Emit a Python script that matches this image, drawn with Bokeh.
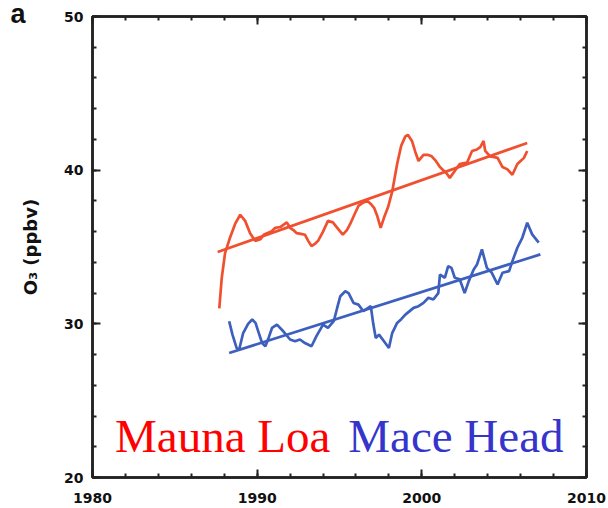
from bokeh.plotting import figure
from bokeh.models import FixedTicker, LinearAxis, Label, Range1d, CustomJSTickFormatter
from bokeh.embed import file_html
from bokeh.resources import INLINE

# ---- data ----
mauna_loa_year = [1987.7, 1987.85, 1988.05, 1988.35, 1988.66, 1988.97, 1989.27, 1989.57, 1989.88,
                  1990.2, 1990.4, 1990.6, 1990.85, 1991.1, 1991.4, 1991.8, 1992.0, 1992.2, 1992.4,
                  1992.65, 1992.9, 1993.1, 1993.3, 1993.5, 1993.7, 1994.0, 1994.3, 1994.6, 1994.9,
                  1995.2, 1995.45, 1995.65, 1995.9, 1996.15, 1996.45, 1996.7, 1996.9, 1997.1, 1997.3,
                  1997.5, 1997.7, 1997.95, 1998.2, 1998.5, 1998.75, 1999.0, 1999.15, 1999.4, 1999.6,
                  1999.8, 2000.1, 2000.35, 2000.6, 2000.85, 2001.1, 2001.3, 2001.5, 2001.7, 2002.0,
                  2002.3, 2002.5, 2002.75, 2003.05, 2003.35, 2003.55, 2003.75, 2003.85, 2004.15,
                  2004.4, 2004.6, 2004.9, 2005.2, 2005.5, 2005.8, 2006.0, 2006.2, 2006.4]
mauna_loa_o3 = [31.0, 33.0, 34.6, 35.6, 36.5, 37.1, 36.7, 35.9, 35.4,
                35.5, 35.8, 35.9, 36.0, 36.25, 36.3, 36.6, 36.25, 36.1, 35.9,
                35.85, 35.8, 35.4, 35.06, 35.2, 35.4, 36.0, 36.7, 36.6, 36.2,
                35.8, 36.1, 36.5, 37.1, 37.67, 37.9, 38.0, 37.8, 37.55, 37.0,
                36.25, 36.9, 37.6, 38.6, 40.4, 41.6, 42.2, 42.3, 41.9, 41.2,
                40.6, 41.0, 41.0, 40.9, 40.6, 40.2, 40.0, 39.8, 39.5, 39.95,
                40.4, 40.45, 40.5, 41.25, 41.35, 41.5, 41.9, 41.25, 40.9,
                40.85, 40.8, 40.2, 40.05, 39.7, 40.4, 40.6, 40.8, 41.25]

mace_head_year = [1988.3, 1988.5, 1988.75, 1988.9, 1989.15, 1989.45, 1989.7, 1989.9, 1990.1, 1990.3,
                  1990.5, 1990.7, 1990.9, 1991.2, 1991.6, 1992.0, 1992.3, 1992.6, 1992.9, 1993.3,
                  1993.6, 1994.0, 1994.3, 1994.65, 1994.85, 1995.05, 1995.35, 1995.55, 1995.85,
                  1996.15, 1996.45, 1996.9, 1997.05, 1997.2, 1997.4, 1997.7, 1998.0, 1998.2, 1998.5,
                  1998.75, 1999.0, 1999.5, 1999.8, 2000.1, 2000.4, 2000.7, 2001.0, 2001.1, 2001.4,
                  2001.6, 2001.8, 2002.0, 2002.3, 2002.6, 2002.85, 2003.15, 2003.35, 2003.65,
                  2003.95, 2004.25, 2004.6, 2004.9, 2005.3, 2005.5, 2005.8, 2006.1, 2006.4, 2006.7,
                  2007.1]
mace_head_o3 = [30.17, 29.3, 28.43, 28.3, 29.4, 30.0, 30.28, 30.06, 29.4, 28.75,
                28.54, 29.1, 29.73, 29.95, 29.5, 28.98, 28.87, 28.98, 28.75, 28.54,
                29.2, 29.95, 29.73, 30.17, 31.0, 31.8, 32.12, 32.0, 31.36,
                31.25, 30.82, 31.15, 30.0, 29.08, 29.3, 28.87, 28.43, 29.4, 30.06,
                30.3, 30.6, 31.04, 31.15, 31.36, 31.7, 31.58, 32.0, 33.2, 33.0,
                33.75, 33.64, 33.0, 32.9, 32.0, 32.78, 33.54, 33.86, 34.84,
                33.64, 33.32, 32.56, 33.32, 33.43, 34.08, 34.95, 35.6, 36.58, 35.82,
                35.28]

mauna_loa_trend_year = [1987.6, 2006.4]
mauna_loa_trend_o3 = [34.67, 41.77]
mace_head_trend_year = [1988.3, 2007.2]
mace_head_trend_o3 = [28.1, 34.52]

x_major = [1980, 1990, 2000, 2010]
x_minor = list(range(1980, 2011, 2))
y_major = [20, 30, 40, 50]
y_minor = list(range(20, 51, 2))

RED = "#F0502F"
BLUE = "#3D60BE"

p = figure(width=608, height=508, output_backend="svg", toolbar_location=None,
           x_range=Range1d(1980, 2010), y_range=Range1d(20, 50),
           min_border_left=92, min_border_right=22, min_border_top=16, min_border_bottom=31)
p.background_fill_color = "white"
p.border_fill_color = "white"
p.xgrid.visible = False
p.ygrid.visible = False
p.outline_line_color = "#222222"
p.outline_line_width = 2.5

xt = FixedTicker(ticks=x_major, minor_ticks=x_minor)
yt = FixedTicker(ticks=y_major, minor_ticks=y_minor)

def style(ax):
    ax.axis_line_color = "#222222"
    ax.axis_line_width = 2.5
    ax.major_tick_line_color = "#222222"
    ax.minor_tick_line_color = "#222222"
    ax.major_tick_line_width = 2
    ax.minor_tick_line_width = 2
    ax.major_tick_in = 8
    ax.major_tick_out = 0
    ax.minor_tick_in = 4
    ax.minor_tick_out = 0
    ax.major_label_text_font = "DejaVu Sans"
    ax.major_label_text_font_style = "bold"
    ax.major_label_text_color = "#111111"
    ax.major_label_text_font_size = "14px"

p.xaxis.ticker = xt
p.yaxis.ticker = yt
style(p.xaxis[0])
style(p.yaxis[0])
p.xaxis.major_label_standoff = 15
p.yaxis.major_label_standoff = 9
p.yaxis.axis_label = "O₃ (ppbv)"
p.yaxis.axis_label_text_font = "DejaVu Sans"
p.yaxis.axis_label_text_font_style = "bold"
p.yaxis.axis_label_text_font_size = "18px"
p.yaxis.axis_label_text_color = "#111111"
p.yaxis.axis_label_standoff = 20

blank = CustomJSTickFormatter(code="return '';")
top = LinearAxis(ticker=xt, formatter=blank)
style(top)
top.major_label_standoff = 0
p.add_layout(top, "above")
right = LinearAxis(ticker=yt, formatter=blank)
style(right)
right.major_label_standoff = 0
p.add_layout(right, "right")

p.line(mauna_loa_year, mauna_loa_o3, line_color=RED, line_width=2.7)
p.line(mauna_loa_trend_year, mauna_loa_trend_o3, line_color=RED, line_width=2.7)
p.line(mace_head_year, mace_head_o3, line_color=BLUE, line_width=2.7)
p.line(mace_head_trend_year, mace_head_trend_o3, line_color=BLUE, line_width=2.7)

p.add_layout(Label(x=1981.37, y=21.04, text="Mauna Loa", text_color="#FF0000",
                   text_font="Liberation Serif", text_font_size="47px"))
p.add_layout(Label(x=1995.53, y=21.04, text="Mace Head", text_color="#3535CC",
                   text_font="Liberation Serif", text_font_size="47px"))
# panel letter, in the left side panel so it is not clipped to the frame
p.add_layout(Label(x=10, y=28, x_units="canvas", y_units="canvas", text="a",
                   text_color="#111111",
                   text_font="Liberation Sans", text_font_style="bold", text_font_size="27px"),
             "left")

open("out.html", "w").write(file_html(p, INLINE))
